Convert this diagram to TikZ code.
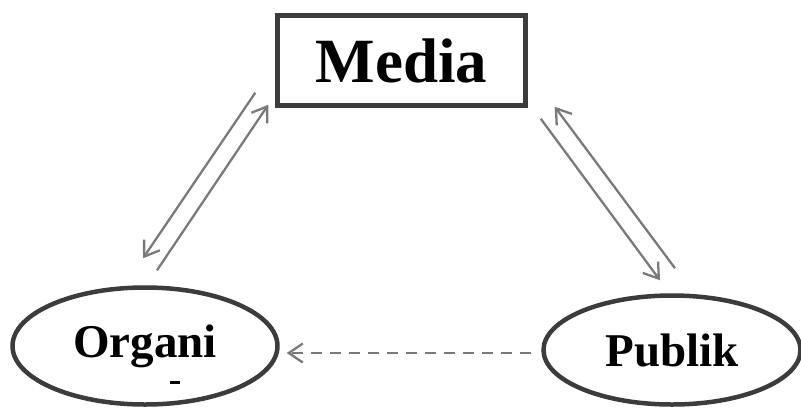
\documentclass[tikz,border=0pt]{standalone}
\usepackage{fontspec}
\setmainfont{Liberation Serif}
\usetikzlibrary{positioning, arrows.meta, calc, shapes.geometric}

\definecolor{edgegray}{HTML}{3C3C3C}
\definecolor{arrgray}{HTML}{7A7A7A}

\begin{document}
\begin{tikzpicture}[
    x=1pt, y=-1pt,
    box/.style={
        rectangle,
        draw=edgegray,
        line width=4.5pt,
        minimum width=248pt,
        minimum height=90pt,
        inner sep=0pt,
        font=\fontsize{63}{70}\selectfont\bfseries
    },
    oval/.style={
        ellipse,
        draw=edgegray,
        line width=4.5pt,
        inner sep=0pt,
        font=\fontsize{47}{54}\selectfont\bfseries
    },
    arr/.style={
        arrgray,
        line width=2.3pt,
        -{Straight Barb[length=14pt,width=19pt,line width=2.3pt]}
    }
]
\useasboundingbox (0,0) rectangle (801,413);

% --- nodes ---
\node[box] (media) at (401.5,60.5) {Media};
\node[oval, minimum width=265pt, minimum height=117pt] (org) at (145,346) {Organi};
\node[oval, minimum width=257pt, minimum height=109pt] (pub) at (672,350) {Publik};

% clipped second line of the left label
\fill (170,381) rectangle (180,384);

% --- Media <-> Organisasi ---
\draw[arr] ($(media.south west)+(-20,-15)$) -- ($(org.north)+(-2,-27)$);
\draw[arr] ($(org.north)+(12,-15)$) -- ($(media.south west)+(-7,-3)$);

% --- Media <-> Publik ---
\draw[arr] ($(media.south east)+(13,11)$) -- ($(pub.north)+(-12,-13)$);
\draw[arr] ($(pub.north)+(3,-25)$) -- ($(media.south east)+(27,-1)$);

% --- Publik -> Organisasi ---
\draw[arr, dash pattern=on 11pt off 8pt] ($(pub.west)+(-10,3)$) -- ($(org.east)+(7,7)$);

\end{tikzpicture}
\end{document}
